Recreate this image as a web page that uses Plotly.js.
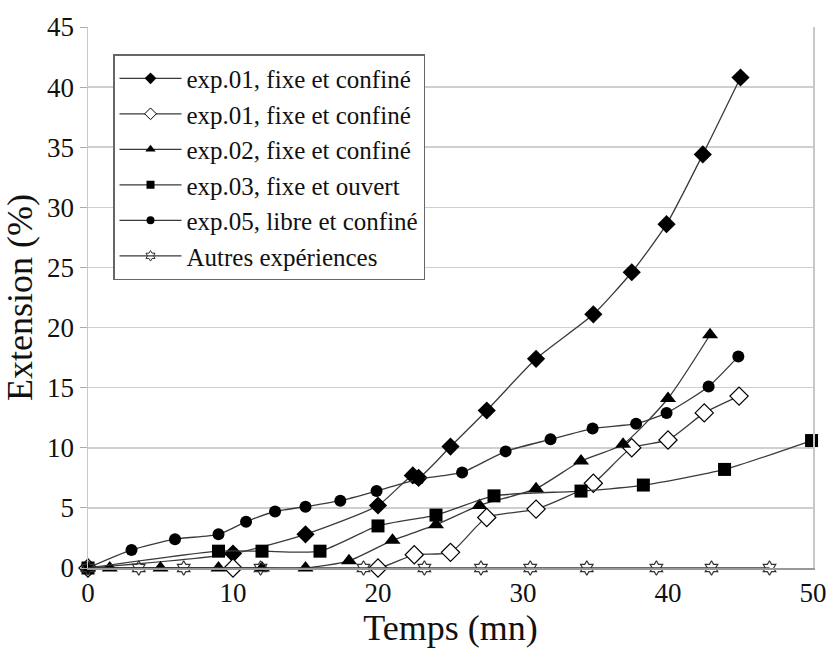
<!DOCTYPE html>
<html>
<head>
<meta charset="utf-8">
<script src="https://cdn.plot.ly/plotly-3.0.1.min.js"></script>
<style>
html,body{margin:0;padding:0;background:#fff;}
#chart{width:830px;height:648px;}
#chart text{font-family:"Liberation Serif","Times New Roman",serif !important;}
</style>
</head>
<body>
<div id="chart"></div>
<script>
// Data
const seriesNames = [
  "exp.01, fixe et confiné",
  "exp.01, fixe et confiné",
  "exp.02, fixe et confiné",
  "exp.03, fixe et ouvert",
  "exp.05, libre et confiné",
  "Autres expériences"
];
const exp01aX = [0, 10, 15, 20, 22.4, 22.8, 25, 27.5, 30.9, 34.85, 37.5, 39.9, 42.4, 45];
const exp01aY = [0, 1.2, 2.8, 5.2, 7.7, 7.5, 10.1, 13.1, 17.4, 21.1, 24.6, 28.6, 34.4, 40.8];
const exp01bX = [0, 10, 20, 22.5, 25, 27.5, 30.9, 34.85, 37.5, 40, 42.5, 44.9];
const exp01bY = [0, 0, 0, 1.1, 1.3, 4.2, 4.9, 7.05, 10.0, 10.65, 12.9, 14.3];
const exp02X = [0, 1.5, 5, 9, 12, 15, 18, 21, 24, 27, 30.9, 34, 36.9, 40, 42.9];
const exp02Y = [0, 0, 0, 0, 0, 0, 0.6, 2.3, 3.6, 5.2, 6.6, 8.9, 10.3, 14.1, 19.4];
const exp03X = [0, 9, 12, 16, 20, 24, 28, 34, 38.3, 43.9, 49.9];
const exp03Y = [0, 1.4, 1.4, 1.4, 3.5, 4.4, 6.0, 6.4, 6.9, 8.2, 10.6];
const exp05X = [0, 3, 6, 9, 10.9, 12.9, 15, 17.4, 19.9, 22.8, 25.8, 28.8, 31.9, 34.8, 37.8, 39.9, 42.8, 44.85];
const exp05Y = [0, 1.5, 2.4, 2.8, 3.85, 4.7, 5.1, 5.6, 6.4, 7.4, 7.95, 9.7, 10.7, 11.6, 12.0, 12.9, 15.1, 17.6];
const autresX = [0, 3.5, 6.6, 11.9, 19, 23.2, 27.1, 30.5, 34.4, 39.2, 43, 47];
const autresY = [0, 0, 0, 0, 0, 0, 0, 0, 0, 0, 0, 0];
const xTicks = [0, 10, 20, 30, 40, 50];
const yTicks = [0, 5, 10, 15, 20, 25, 30, 35, 40, 45];

const serif = 'Liberation Serif, Times New Roman, serif';
const lineStyle = {color: '#3a3a3a', width: 1.3, shape: 'spline', smoothing: 0.6};
const legendLine = {color: '#3a3a3a', width: 1.3};

const markers = [
  {symbol: 'diamond', size: 14, color: '#000'},
  {symbol: 'diamond', size: 14, color: '#fff', line: {color: '#000', width: 1.2}},
  {symbol: 'triangle-up', size: 14, color: '#000'},
  {symbol: 'square', size: 13, color: '#000'},
  {symbol: 'circle', size: 12, color: '#000'},
  {symbol: 'hexagram-open', size: 11, color: '#333', line: {color: '#333', width: 1.2}}
];
const legendMarkers = [
  {symbol: 'diamond', size: 9, color: '#000'},
  {symbol: 'diamond', size: 9, color: '#fff', line: {color: '#000', width: 1}},
  {symbol: 'triangle-up', size: 9, color: '#000'},
  {symbol: 'square', size: 8, color: '#000'},
  {symbol: 'circle', size: 8, color: '#000'},
  {symbol: 'hexagram-open', size: 8, color: '#333', line: {color: '#333', width: 1}}
];
const xs = [exp01aX, exp01bX, exp02X, exp03X, exp05X, autresX];
const ys = [exp01aY, exp01bY, exp02Y, exp03Y, exp05Y, autresY];

const data = [];
for (let i = 0; i < 6; i++) {
  data.push({
    x: xs[i], y: ys[i], name: seriesNames[i], type: 'scatter', mode: 'lines+markers',
    line: lineStyle, marker: markers[i], cliponaxis: false, showlegend: false
  });
}
for (let i = 0; i < 6; i++) {
  data.push({
    x: [null], y: [null], name: seriesNames[i], type: 'scatter', mode: 'lines+markers',
    line: legendLine, marker: legendMarkers[i], showlegend: true, legendgroup: 'g' + i
  });
}

const layout = {
  width: 830, height: 648,
  margin: {l: 88, r: 17, t: 27, b: 80},
  paper_bgcolor: '#fff', plot_bgcolor: '#fff',
  font: {family: serif, color: '#111'},
  showlegend: true,
  legend: {
    x: 0.0345, y: 0.95, xanchor: 'left', yanchor: 'top',
    bgcolor: '#fff', bordercolor: '#666', borderwidth: 1.5,
    font: {family: serif, size: 25, color: '#111'},
    traceorder: 'grouped', tracegroupgap: 0, itemwidth: 62
  },
  xaxis: {
    range: [0, 50], tickvals: xTicks, ticktext: xTicks.map(String),
    showgrid: false, zeroline: false,
    showline: true, linecolor: '#999', linewidth: 1.5, mirror: false,
    ticks: '', tickfont: {family: serif, size: 27, color: '#111'},
    title: {text: 'Temps (mn)', font: {family: serif, size: 36, color: '#111'}, standoff: 4}
  },
  yaxis: {
    range: [0, 45], tickvals: yTicks, ticktext: yTicks.map(String),
    showgrid: true, gridcolor: '#cfcfcf', gridwidth: 1.5, zeroline: false,
    showline: true, linecolor: '#c8c8c8', linewidth: 1.5, mirror: true,
    ticks: 'outside', ticklen: 7, tickcolor: '#aaa', tickwidth: 1,
    tickfont: {family: serif, size: 27, color: '#111'},
    title: {text: 'Extension (%)', font: {family: serif, size: 36, color: '#111'}, standoff: 4}
  }
};

Plotly.newPlot('chart', data, layout, {displayModeBar: false, staticPlot: true});
</script>
</body>
</html>
